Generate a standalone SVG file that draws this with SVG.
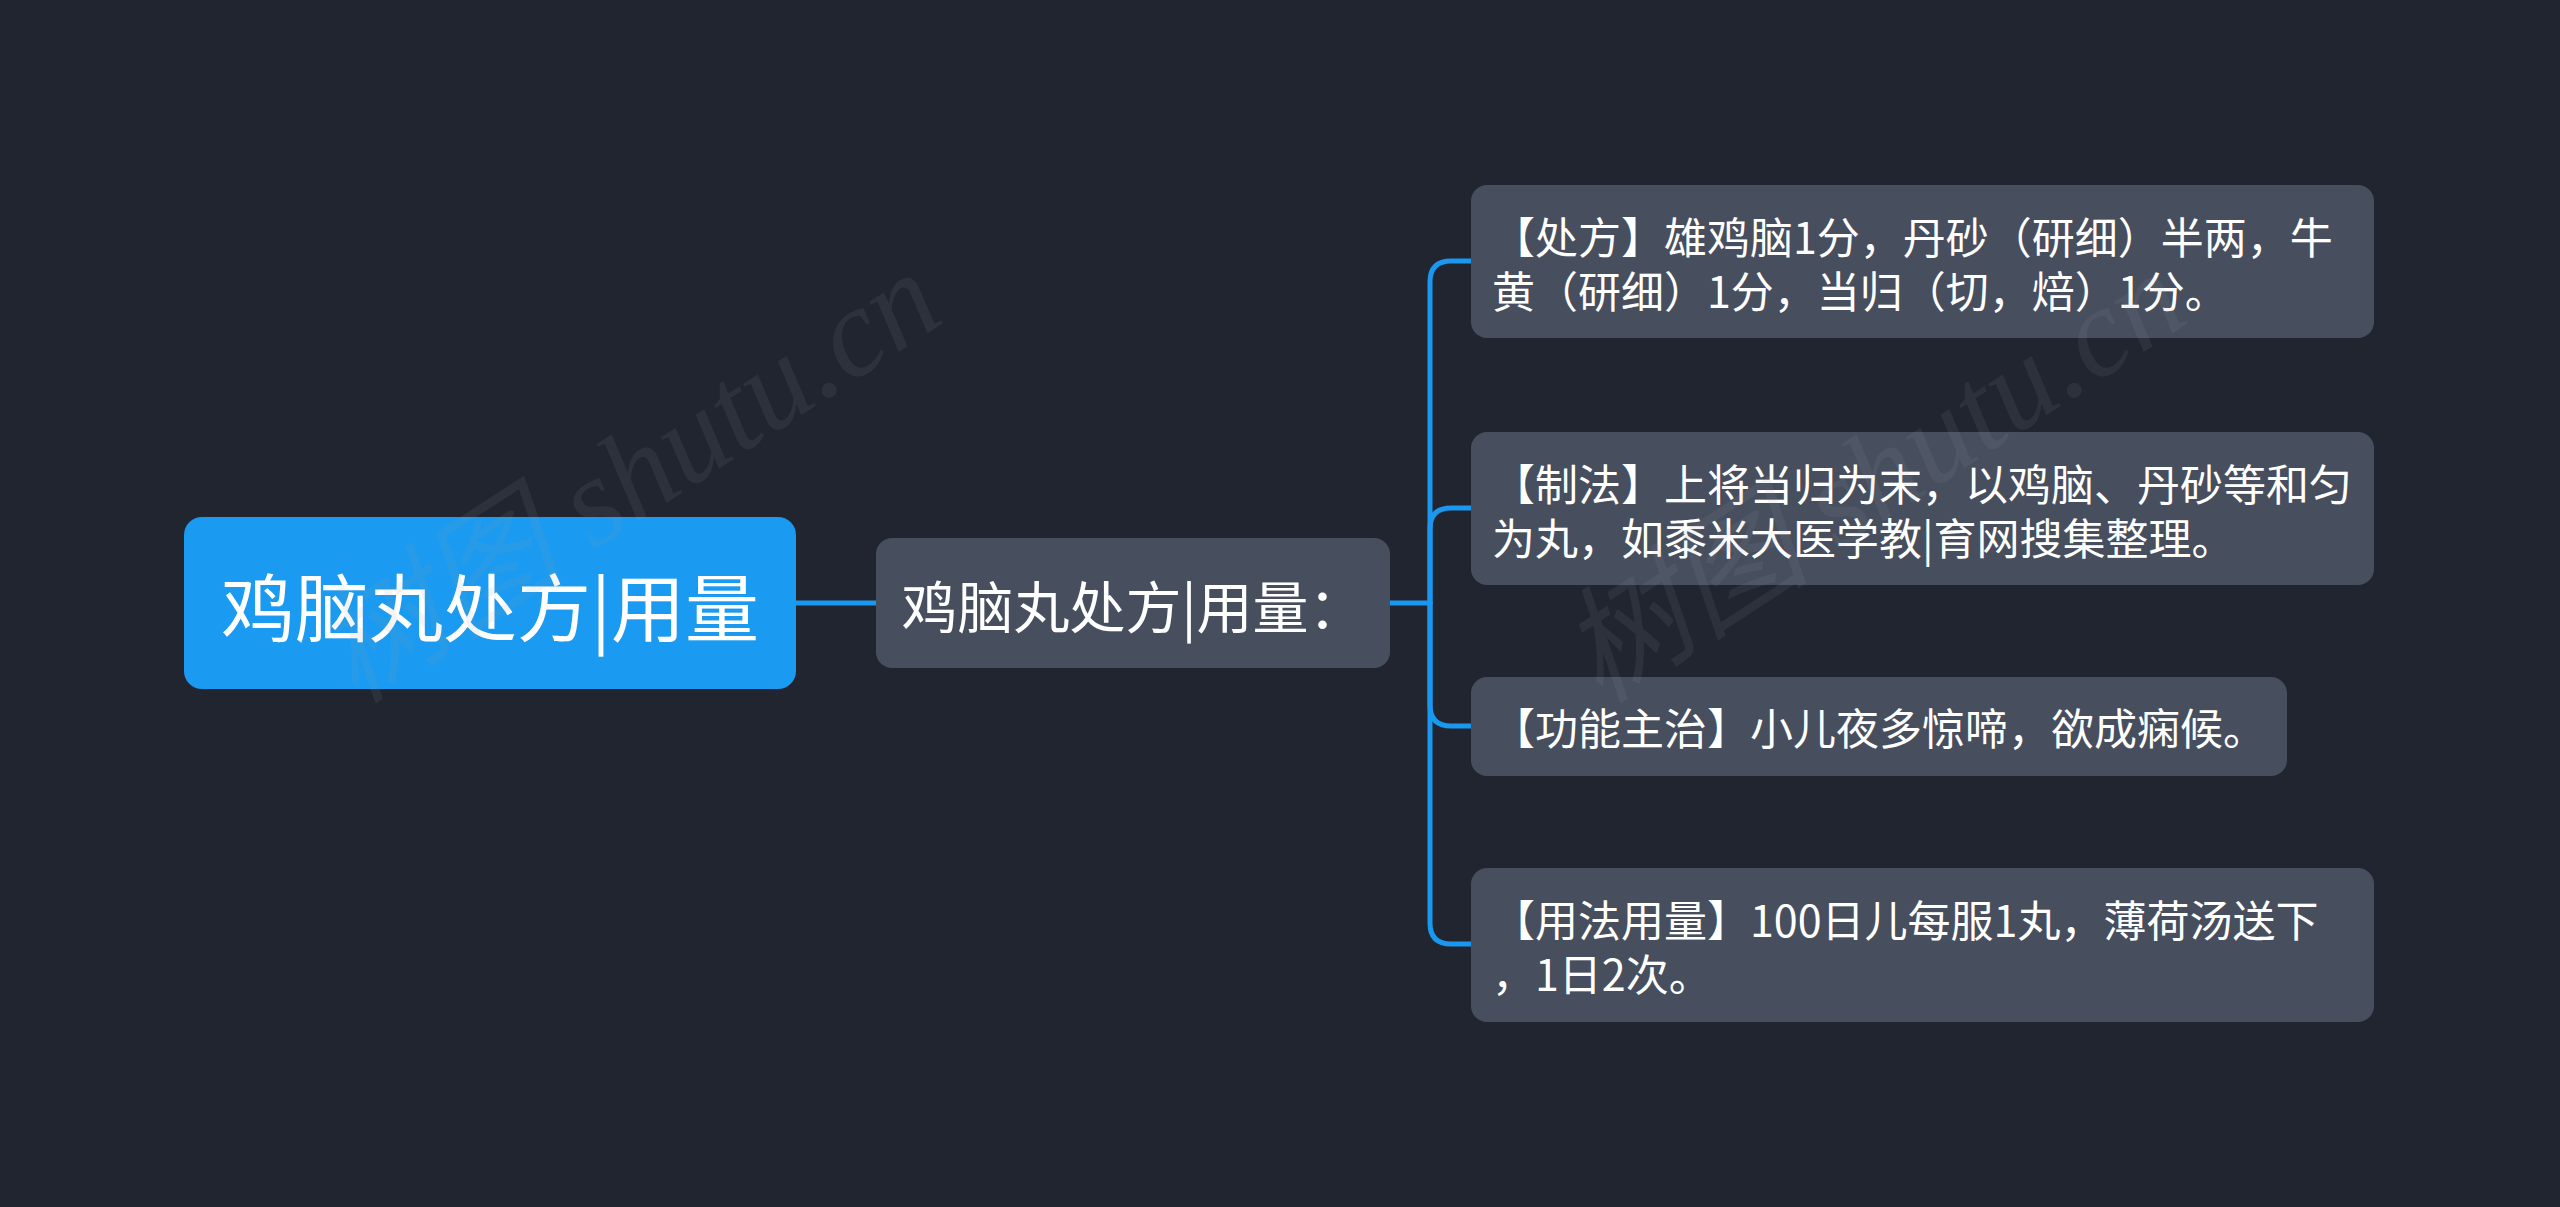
<svg xmlns="http://www.w3.org/2000/svg" width="2560" height="1207" viewBox="0 0 2560 1207">
<defs>
<style>
.bg{fill:#21252f}
.root{fill:#1a9af0}
.sub{fill:#474e5e}
.t{font-family:"Noto Sans CJK SC","Noto Sans",sans-serif;fill:#ffffff;dominant-baseline:central}
.leaf{font-size:43px}
.conn{fill:none;stroke:#1a97ef;stroke-width:5;stroke-linecap:round}
.wm{font-family:"Liberation Serif","Noto Sans CJK SC",serif;font-size:126px;font-style:italic;fill:#9aa0aa;opacity:0.1}
</style>
</defs>
<rect class="bg" x="0" y="0" width="2560" height="1207"/>
<g id="connectors">
<path class="conn" d="M796,603 H876"/>
<path class="conn" d="M1389,603 H1430"/>
<path class="conn" d="M1430,603 V282 Q1430,261 1451,261 H1471"/>
<path class="conn" d="M1430,603 V529 Q1430,508 1451,508 H1471"/>
<path class="conn" d="M1430,603 V705 Q1430,726 1451,726 H1471"/>
<path class="conn" d="M1430,603 V923 Q1430,944 1451,944 H1471"/>
</g>
<g id="node-root">
<rect class="root" x="184" y="517" width="612" height="172" rx="18"/>
<text class="t" x="490" y="603" font-size="74" text-anchor="middle">鸡脑丸处方|用量</text>
</g>
<g id="node-main">
<rect class="sub" x="876" y="538" width="514" height="130" rx="16"/>
<text class="t" x="1133" y="603" font-size="56" text-anchor="middle">鸡脑丸处方|用量：</text>
</g>
<g id="node-1">
<rect class="sub" x="1471" y="185" width="903" height="153" rx="16"/>
<text class="t leaf" x="1492" y="235">【处方】雄鸡脑1分，丹砂（研细）半两，牛</text>
<text class="t leaf" x="1492" y="289">黄（研细）1分，当归（切，焙）1分。</text>
</g>
<g id="node-2">
<rect class="sub" x="1471" y="432" width="903" height="153" rx="16"/>
<text class="t leaf" x="1492" y="482">【制法】上将当归为末，以鸡脑、丹砂等和匀</text>
<text class="t leaf" x="1492" y="536">为丸，如黍米大医学教|育网搜集整理。</text>
</g>
<g id="node-3">
<rect class="sub" x="1471" y="677" width="816" height="99" rx="16"/>
<text class="t leaf" x="1492" y="726">【功能主治】小儿夜多惊啼，欲成痫候。</text>
</g>
<g id="node-4">
<rect class="sub" x="1471" y="868" width="903" height="154" rx="16"/>
<text class="t leaf" x="1492" y="918">【用法用量】100日儿每服1丸，薄荷汤送下</text>
<text class="t leaf" x="1492" y="972">，1日2次。</text>
</g>
<g id="watermarks">
<text class="wm" transform="translate(355,705) rotate(-33)">树图 shutu.cn</text>
<text class="wm" transform="translate(1600,705) rotate(-33)">树图 shutu.cn</text>
</g>
</svg>
